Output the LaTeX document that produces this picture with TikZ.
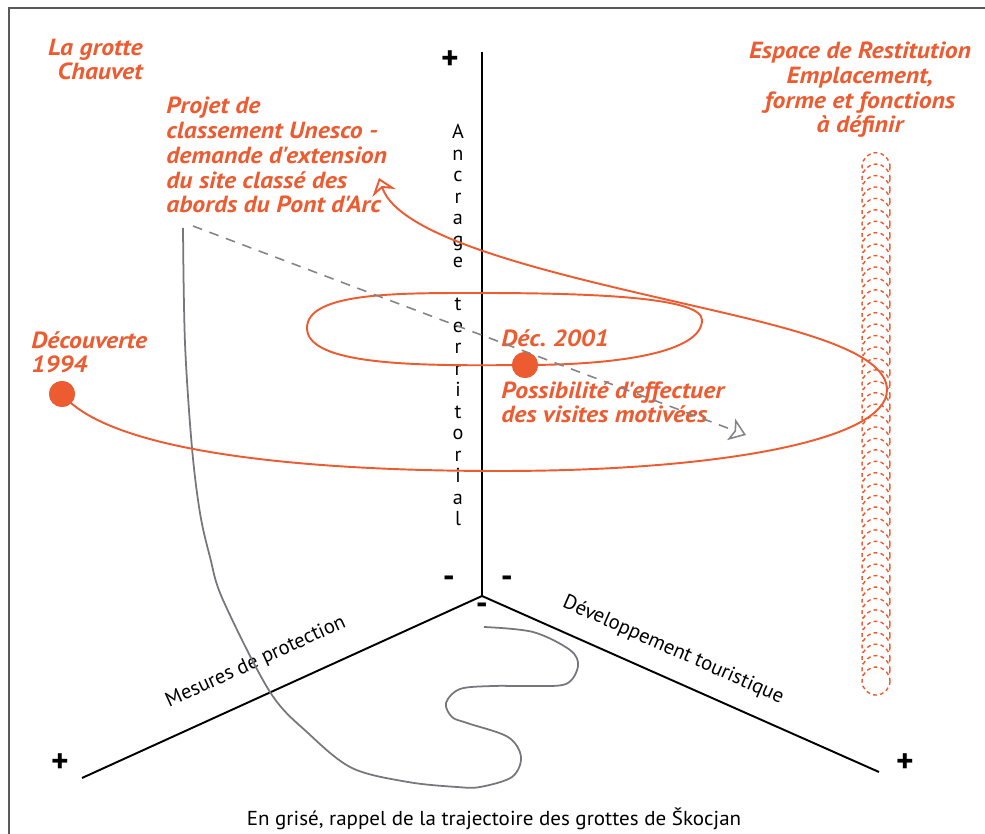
\documentclass[tikz,border=0pt]{standalone}
\usepackage{fontspec}
\setmainfont{PT Sans}
\newfontfamily\titrefont[FakeStretch=1.1]{PT Sans}
\usetikzlibrary{arrows.meta}

\definecolor{ocre}{RGB}{237,91,48}
\definecolor{grise}{RGB}{118,118,124}

\begin{document}
\begin{tikzpicture}[x=0.02cm,y=-0.02cm,
  titre/.style={text=ocre,font=\titrefont\bfseries\itshape\fontsize{13.3}{14.2}\selectfont,inner sep=0pt},
  axe/.style={line width=1.1pt,black},
  signe/.style={font=\bfseries\fontsize{19}{19}\selectfont,inner sep=0pt},
  nomaxe/.style={font=\fontsize{11.7}{13}\selectfont,inner sep=0pt,anchor=base},
  lettre/.style={font=\fontsize{11.5}{12}\selectfont,inner sep=0pt,anchor=base},
  traj/.style={ocre,line width=1.1pt},
  etape/.style={circle,fill=ocre,minimum size=0.52cm,inner sep=0pt},
  anneau/.style={ocre,line width=0.8pt,dash pattern=on 2.2pt off 1.8pt,fill=white}]
\useasboundingbox (0,0) rectangle (985,834);

% cadre
\draw[line width=1.1pt,black!65] (9,834) -- (9,8) -- (985,8);

% les trois axes
\coordinate (O) at (482,596);
\coordinate (haut) at (482,52);
\coordinate (gauche) at (82,778);
\coordinate (droite) at (879,772);
\draw[axe] (haut) -- (O);
\draw[axe] (O) -- (gauche);
\draw[axe] (O) -- (droite);
\node[signe] (plus-h) at (450,60) {+};
\node[signe] (plus-g) at (60,763) {+};
\node[signe] (plus-d) at (905,763) {+};
\node[signe] (moins-g) at (449,582) {-};
\node[signe] (moins-d) at (507,582) {-};
\node[signe] (moins-b) at (482,609) {-};

% noms des axes
\foreach \c [count=\i] in {A,n,c,r,a,g,e,{},t,e,r,r,i,t,o,r,i,a,l}
  \node[lettre] (anc\i) at (458,{139+21.5*(\i-1)}) {\c};
\node[nomaxe,rotate=24.5] (protec) at (258,667) {Mesures de protection};
\node[nomaxe,rotate=-23.9] (tourisme) at (671,655) {D\'eveloppement touristique};

% espace de restitution
\foreach \i in {0,...,45}
  \draw[anneau] (876,{166.7+11.43*\i}) circle (14);
\node[titre,align=center,anchor=base] (espace) at (860,133)
  {Espace de Restitution\\Emplacement,\\forme et fonctions\\\`a d\'efinir};

% trajectoire des grottes de Skocjan
\coordinate (skoc-deb) at (484,627);
\coordinate (skoc-fin) at (183,228);
\draw[grise,line width=1pt] plot[smooth,tension=0.55] coordinates {
  (skoc-deb) (533,632) (570,650) (578,666) (566,684) (530,686) (493,686)
  (460,689) (446,703) (452,717) (467,723) (508,737) (521,757) (512,777)
  (480,787) (457,787) (408,782) (352,768) (308,733) (270,692)
  (223,600) (210,557) (200,513) (192,448) (185,343) (skoc-fin)};

% trajectoire de la grotte Chauvet
\node[etape] (decouv) at (62,394) {};
\node[etape] (dec2001) at (525,365) {};
\coordinate (unesco) at (379,178);
\draw[traj,-{Stealth[open,length=9pt,width=14pt,inset=3pt]}] (decouv.center)
  .. controls (110,452) and (300,471) .. (500,471)
  .. controls (720,471) and (887,440) .. (887,390)
  .. controls (887,350) and (790,328) .. (690,305)
  .. controls (560,275) and (400,240) .. (unesco);
\draw[traj] (dec2001.center)
  .. controls (420,366) and (307,366) .. (307,328)
  .. controls (307,292) and (400,293) .. (480,293)
  .. controls (600,293) and (702,298) .. (702,320)
  .. controls (702,352) and (620,365) .. (dec2001.center);
\node[etape] at (decouv) {};
\node[etape] at (dec2001) {};

% textes
\node[titre,align=right,anchor=base east] (chauvet) at (143,80) {La grotte\\Chauvet};
\node[titre,align=left,anchor=base west] (projet) at (166,213)
  {Projet de\\classement Unesco -\\demande d'extension\\du site class\'e des\\abords du Pont d'Arc};
\node[titre,align=left,anchor=base west] (decouv-txt) at (31,373) {D\'ecouverte\\1994};
\node[titre,anchor=base west] (dec2001-txt) at (501,347) {D\'ec.\ 2001};
\node[titre,align=left,anchor=base west] (visites) at (501,423)
  {Possibilit\'e d'effectuer\\des visites motiv\'ees};

% fleche en pointilles
\coordinate (tiret-deb) at (193,226);
\coordinate (tiret-fin) at (746,435);
\draw[grise!90,line width=0.9pt,dash pattern=on 5.5pt off 4.5pt,
  -{Stealth[open,length=9pt,width=13pt,inset=2pt]}] (tiret-deb) -- (tiret-fin);

% legende
\node[inner sep=0pt,anchor=base] (legende) at (494,826)
  {\scalebox{1.04}[1]{\fontsize{11.5}{13}\selectfont En gris\'e, rappel de la trajectoire des grottes de \v{S}kocjan}};
\end{tikzpicture}
\end{document}
